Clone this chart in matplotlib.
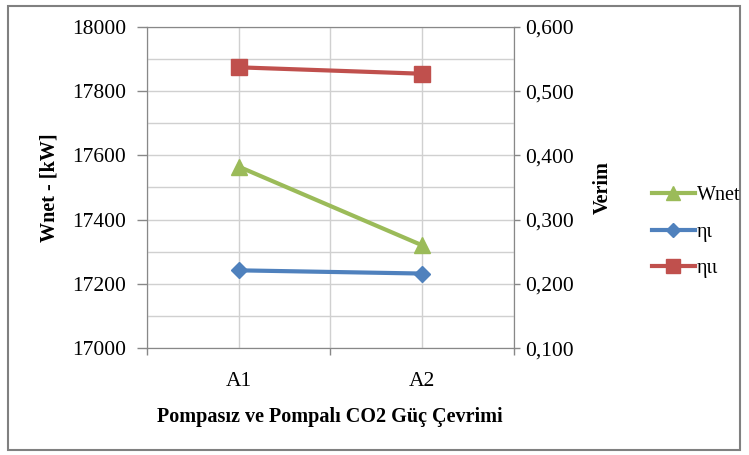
import numpy as np
import matplotlib
matplotlib.use("Agg")
import matplotlib.pyplot as plt
from matplotlib.lines import Line2D
from matplotlib.patches import Rectangle
from matplotlib.ticker import FuncFormatter, MultipleLocator, FixedLocator

plt.rcParams['font.family'] = ['Liberation Serif', 'DejaVu Serif']

categories = ['A1', 'A2']
wnet = [17565, 17320]          # kW, left axis
eta_1 = [0.221, 0.216]         # right axis
eta_2 = [0.537, 0.527]         # right axis

green = '#9BBB59'
blue = '#4F81BD'
red = '#C0504D'
grid_c = '#D0D0D0'
axis_c = '#888888'

fig = plt.figure(figsize=(7.49, 4.55), dpi=100)
ax = fig.add_axes([0.196, 0.235, 0.490, 0.706])
ax2 = ax.twinx()

x = np.arange(len(categories)) + 0.5

ax.set_xlim(0, len(categories))
ax.set_ylim(17000, 18000)
ax2.set_ylim(0.1, 0.6)

# grid: category centres and boundaries, every 100 kW
for gx in np.arange(0, len(categories) + 0.01, 0.5):
    ax.axvline(gx, color=grid_c, lw=1.0, zorder=0)
for gy in np.arange(17000, 18001, 100):
    ax.axhline(gy, color=grid_c, lw=1.0, zorder=0)

ax.plot(x, wnet, color=green, lw=3, marker='^', ms=11, zorder=3)
ax2.plot(x, eta_1, color=blue, lw=3, marker='D', ms=8, zorder=3)
ax2.plot(x, eta_2, color=red, lw=3, marker='s', ms=11, zorder=3)

ax.set_xticks(x)
ax.set_xticklabels(categories)
ax.xaxis.set_minor_locator(FixedLocator(np.arange(0, len(categories) + 1)))
ax.yaxis.set_major_locator(MultipleLocator(200))
ax2.yaxis.set_major_locator(MultipleLocator(0.1))
ax2.yaxis.set_major_formatter(FuncFormatter(lambda v, p: f'{v:.3f}'.replace('.', ',')))

for a in (ax, ax2):
    for s in a.spines.values():
        s.set_color(axis_c)
    a.tick_params(axis='both', labelsize=15.5, colors=axis_c, labelcolor='black',
                  length=7, width=1, direction='out', pad=8)
ax2.tick_params(axis='y', length=4, pad=4)
ax.tick_params(axis='x', which='major', length=0, pad=17)
ax.tick_params(axis='x', which='minor', length=5, width=1, color=axis_c)

ax.set_ylabel('Wnet - [kW]', fontsize=14.5, fontweight='bold', labelpad=9)
ax2.set_ylabel('Verim', fontsize=14.5, fontweight='bold', labelpad=14)
ax.set_xlabel('Pompasız ve Pompalı CO2 Güç Çevrimi', fontsize=14.5, fontweight='bold', labelpad=12)

handles = [
    Line2D([], [], color=green, lw=3, marker='^', ms=10),
    Line2D([], [], color=blue, lw=3, marker='D', ms=7),
    Line2D([], [], color=red, lw=3, marker='s', ms=10),
]
fig.legend(handles, ['Wnet', 'ηι', 'ηιι'], loc='center left',
           bbox_to_anchor=(0.846, 0.49), frameon=False, fontsize=14.5,
           handlelength=2.15, handletextpad=0.1, labelspacing=0.85)

fig.add_artist(Rectangle((0.011, 0.012), 0.977, 0.975, transform=fig.transFigure,
                         fill=False, edgecolor='#808080', lw=1.5))

fig.savefig('out.png', dpi=100)
